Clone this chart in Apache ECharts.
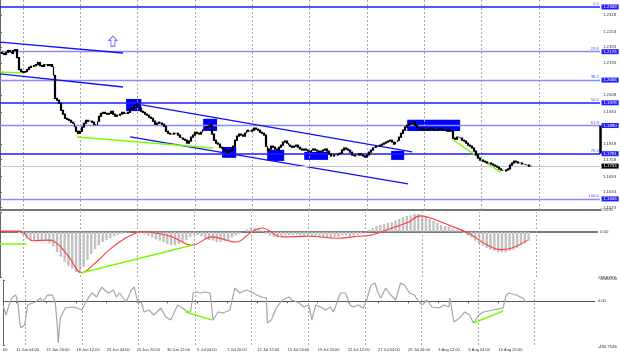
<!DOCTYPE html>
<html><head><meta charset="utf-8">
<script src="https://cdn.jsdelivr.net/npm/echarts@6/dist/echarts.min.js"></script>
<style>html,body{margin:0;padding:0;background:#fff}#c{width:620px;height:357px}</style>
</head><body><div id="c"></div>
<script>
// ---------- DATA ----------
const closes = [
1.2173,1.2169,1.2165,1.2173,1.2180,1.2176,1.2169,1.2180,1.2184,1.2153,
1.2107,1.2099,1.2096,1.2099,1.2107,1.2115,1.2119,1.2119,1.2122,1.2126,
1.2134,1.2122,1.2119,1.2126,1.2126,1.2122,1.2126,1.2119,1.2084,1.1995,
1.1988,1.1976,1.1949,1.1934,1.1918,1.1914,1.1910,1.1903,1.1899,1.1884,
1.1868,1.1860,1.1868,1.1884,1.1899,1.1910,1.1907,1.1907,1.1903,1.1895,
1.1891,1.1907,1.1926,1.1937,1.1941,1.1937,1.1934,1.1937,1.1945,1.1934,
1.1926,1.1930,1.1930,1.1934,1.1941,1.1937,1.1937,1.1941,1.1953,1.1957,
1.1968,1.1972,1.1964,1.1957,1.1945,1.1941,1.1934,1.1930,1.1922,1.1918,
1.1907,1.1895,1.1899,1.1903,1.1899,1.1895,1.1887,1.1868,1.1860,1.1857,
1.1857,1.1860,1.1860,1.1853,1.1845,1.1841,1.1837,1.1833,1.1822,1.1830,
1.1845,1.1853,1.1864,1.1860,1.1857,1.1864,1.1876,1.1880,1.1884,1.1887,
1.1891,1.1857,1.1833,1.1822,1.1818,1.1806,1.1803,1.1795,1.1791,1.1787,
1.1791,1.1795,1.1810,1.1833,1.1849,1.1857,1.1853,1.1849,1.1860,1.1872,
1.1868,1.1868,1.1872,1.1880,1.1876,1.1872,1.1864,1.1860,1.1853,1.1810,
1.1791,1.1799,1.1810,1.1806,1.1799,1.1795,1.1806,1.1814,1.1826,1.1830,
1.1822,1.1814,1.1810,1.1806,1.1810,1.1814,1.1806,1.1799,1.1795,1.1799,
1.1795,1.1791,1.1787,1.1795,1.1799,1.1795,1.1791,1.1787,1.1791,1.1795,
1.1799,1.1791,1.1780,1.1772,1.1772,1.1776,1.1776,1.1780,1.1783,1.1795,
1.1803,1.1799,1.1795,1.1787,1.1776,1.1772,1.1776,1.1776,1.1780,1.1776,
1.1772,1.1768,1.1776,1.1787,1.1795,1.1803,1.1806,1.1810,1.1810,1.1814,
1.1818,1.1822,1.1826,1.1830,1.1833,1.1826,1.1818,1.1826,1.1833,1.1845,
1.1860,1.1872,1.1884,1.1891,1.1895,1.1899,1.1903,1.1891,1.1884,1.1880,
1.1876,1.1880,1.1872,1.1872,1.1876,1.1880,1.1876,1.1872,1.1872,1.1876,
1.1880,1.1876,1.1872,1.1872,1.1868,1.1872,1.1868,1.1841,1.1837,1.1845,
1.1845,1.1841,1.1833,1.1830,1.1822,1.1814,1.1810,1.1803,1.1791,1.1776,
1.1764,1.1756,1.1756,1.1752,1.1749,1.1745,1.1745,1.1741,1.1737,1.1733,
1.1729,1.1722,1.1718,1.1714,1.1714,1.1718,1.1722,1.1737,1.1745,1.1752,
1.1749,1.1745,1.1745,1.1741,1.1741,1.1737,1.1737,1.1733,1.1733
];

// MACD histogram, one value every 2 bars
const histStep = 2;
const macdHist = [
0.0000,0.0000,0.0001,0.0001,0.0000,-0.0002,-0.0005,-0.0010,-0.0013,-0.0014,
-0.0013,-0.0013,-0.0014,-0.0018,-0.0023,-0.0032,-0.0039,-0.0047,-0.0054,-0.0058,
-0.0063,-0.0061,-0.0055,-0.0044,-0.0035,-0.0027,-0.0021,-0.0016,-0.0013,-0.0010,
-0.0007,-0.0005,-0.0003,-0.0002,-0.0001,0.0000,0.0000,-0.0002,-0.0004,-0.0006,
-0.0009,-0.0012,-0.0014,-0.0016,-0.0019,-0.0021,-0.0021,-0.0019,-0.0016,-0.0013,
-0.0008,-0.0005,-0.0005,-0.0007,-0.0010,-0.0013,-0.0014,-0.0016,-0.0016,-0.0014,
-0.0013,-0.0009,-0.0006,-0.0003,0.0000,0.0004,0.0006,0.0006,0.0005,0.0002,
-0.0003,-0.0006,-0.0008,-0.0008,-0.0007,-0.0005,-0.0005,-0.0005,-0.0005,-0.0006,
-0.0007,-0.0008,-0.0008,-0.0008,-0.0009,-0.0009,-0.0010,-0.0010,-0.0008,-0.0008,
-0.0006,-0.0006,-0.0007,-0.0006,-0.0005,-0.0003,0.0000,0.0003,0.0006,0.0009,
0.0011,0.0012,0.0014,0.0015,0.0018,0.0020,0.0023,0.0025,0.0026,0.0028,
0.0028,0.0026,0.0023,0.0020,0.0017,0.0014,0.0011,0.0009,0.0008,0.0005,
0.0003,0.0002,-0.0002,-0.0006,-0.0009,-0.0014,-0.0019,-0.0022,-0.0025,-0.0028,
-0.0030,-0.0032,-0.0032,-0.0032,-0.0030,-0.0028,-0.0025,-0.0021,-0.0018,-0.0014
];

const signalBars = [0,10.5,17.3,26.2,31.4,36.6,42.9,49.7,57.6,65.4,71.7,75.9,83.8,90.6,101,111.5,124,132.5,137.7,148.2,162.3,178,188.5,195.3,204.2,214.7,220.9,226.2,235.6,246.1,256.5,263.4,269.6,277.5];
const signalValues = [0.0001,0.0001,-0.0014,-0.0013,-0.0022,-0.0041,-0.0064,-0.0050,-0.0028,-0.0011,-0.0002,0.0000,-0.0003,-0.0008,-0.0021,-0.0008,-0.0016,0.0000,0.0006,-0.0008,-0.0007,-0.0010,-0.0007,-0.0005,0.0004,0.0015,0.0025,0.0022,0.0011,-0.0002,-0.0021,-0.0028,-0.0025,-0.0013];

const cciBars = [0,1.6,3.7,5.2,6.8,7.9,8.9,9.4,11.5,13.1,15.7,17.3,19.9,20.9,23.6,26.2,27.7,28.8,29.3,30.4,33,36.6,39.3,41.9,44.5,47.1,49.7,52.4,53.9,56,58.6,60.2,61.8,65.4,68.1,69.6,71.7,73.3,74.9,77.5,80.1,83.8,86.4,89,92.7,95.3,97.9,99.5,101,103.1,104.7,107.3,109.9,111.5,114.1,116.8,120.4,123,125.7,129.3,131.9,134.6,137.2,139.8,140.3,142.4,145,148.2,151.8,153.4,157.1,159.7,162.3,163.9,166,168.6,171.2,173.8,175.4,179.1,181.7,184.3,185.9,188.5,191.1,192.7,195.3,197.4,198.9,200.5,203.1,205.8,208.4,211,213.1,215.7,218.3,220.9,222.5,225.1,227.7,231.4,234,236.6,237.2,239.3,242.4,245,247.6,249.7,252.4,255,260.2,265.4,267,268.6,272.3,275.9,277.5];
const cciValues = [-42,-154,-8,48,70,-19,-232,-300,-266,-42,-19,-8,37,-8,70,70,-8,-266,-468,-188,-75,-64,-75,-98,14,93,48,160,127,93,127,48,93,-8,127,160,-19,-8,-120,-98,-154,-75,-176,-210,-42,-75,-120,-120,93,104,93,104,93,-210,-120,-131,-98,149,93,127,104,70,48,37,-244,-210,-75,14,48,14,-19,-64,-42,-210,-42,-64,-98,-64,-120,93,93,-42,-64,-42,-75,-8,183,205,104,37,149,70,14,205,183,93,70,-8,-42,14,-64,-75,-42,-64,37,-232,-188,-120,-154,-244,-154,-120,-98,-75,70,93,70,37,-8];

const fibPercents = ['0.0','23.6','38.2','50.0','61.8','76.4','100.0'];
const fibPrices = [1.2349,1.2176,1.2066,1.1978,1.1890,1.1781,1.1606];
const priceTicks = [1.2318,1.2253,1.2193,1.2133,1.2008,1.1943,1.1818,1.1758,1.1693,1.1633,1.1573];

const boxStartBar = [66,106.3,116.2,139.8,159.2,204.7,213.1];
const boxEndBar   = [74,113.6,123.6,148.7,171.7,211.5,240.8];
const boxTop      = [1.1993,1.1916,1.1807,1.1796,1.1788,1.1792,1.1912];
const boxBottom   = [1.1946,1.1869,1.1765,1.1753,1.1757,1.1757,1.1869];

const channelLines = [ // [bar1, price1, bar2, price2]
  [0,1.2213,64.4,1.2171],
  [0,1.2090,64.4,1.2039],
  [74.3,1.1970,215.7,1.1788],
  [68.1,1.1846,213.6,1.1664]
];
const greenPriceLines = [
  [0,1.2097,11.5,1.2093],
  [40.3,1.1846,111.5,1.1803],
  [237.2,1.1834,261.8,1.1710]
];
const greenMacdLines = [[0,-0.0019,14,-0.0019],[43,-0.0064,101,-0.0021]];
const greenCciLines = [[96.9,-120,111,-210],[249.7,-244,265.4,-109]];

const arrowBar = [59.1], arrowPrice = [1.2217];
const rangeMarker = [1.1890, 1.1781];

const separatorBars = [12,42,72,102,132,162,192,222,252,282];
const xLabelBars = [0,7,23,39,55,71,87,103,119,135,151,167,183,199,215,231,247,263];
const xLabelTexts = ['00','11 Jun 04:00','15 Jun 20:00','18 Jun 12:00','23 Jun 04:00','25 Jun 20:00','30 Jun 12:00','5 Jul 04:00','7 Jul 20:00','12 Jul 12:00','15 Jul 04:00','19 Jul 20:00','22 Jul 12:00','27 Jul 04:00','29 Jul 20:00','3 Aug 12:00','6 Aug 04:00','10 Aug 20:00'];

const macdTicks = [0.0031, 0, -0.00708];
const macdTickTexts = ['0.0031','0.00','-0.00708'];
const cciTicks = [238.8777, 0, -490.7546];
const cciTickTexts = ['238.8777','0.00','-490.7546'];

// ---------- STYLE ----------
const FONT = 'Liberation Sans';
const fibStrong = [true,false,false,true,false,true,false];
const TOTAL_SLOTS = 314;
const PREC = 6;

const candleData = closes.map((c,i)=>{const o = i ? closes[i-1] : c; return [i,o,c,Math.min(o,c),Math.max(o,c)];});
const histData = macdHist.map((v,k)=>[k*histStep, v]);
const signalData = signalBars.map((b,i)=>[b, signalValues[i]]);
const cciData = cciBars.map((b,i)=>[b, cciValues[i]]);
const seg = arr => arr.map(l=>[{coord:[l[0],l[1]]},{coord:[l[2],l[3]]}]);

function sepSeries(gi){
  return {type:'line', xAxisIndex:gi, yAxisIndex:gi, data:[], silent:true, z:0,
    markLine:{symbol:'none', silent:true, precision:PREC, label:{show:false},
      lineStyle:{color:'#a8a8a8', type:[2,2], width:1},
      data: separatorBars.map(b=>({xAxis:b}))}};
}
const tickLabelStyle = {fontFamily:FONT, fontSize:4.3, color:'#333'};
const axisBox = (text, bg) => ({show:true, position:'right', distance:1, formatter:text, color:'#fff', backgroundColor:bg,
  padding:[1,2,0,2], fontFamily:FONT, fontSize:4.3});

const xAxisBase = gi => ({type:'value', gridIndex:gi, min:0, max:TOTAL_SLOTS, splitLine:{show:false},
  axisTick:{show:false}, axisLabel:{show:false}, axisLine:{show:true, lineStyle:{color:'#777', width:2}}});

const option = {
  animation:false,
  backgroundColor:'#fff',
  grid:[
    {left:0, right:20, top:0, height:210},
    {left:0, right:20, top:212, height:65},
    {left:0, right:20, top:280, height:65}
  ],
  xAxis:[
    xAxisBase(0),
    xAxisBase(1),
    {type:'value', gridIndex:2, min:0, max:TOTAL_SLOTS, splitLine:{show:false},
      axisLine:{show:true, lineStyle:{color:'#555', width:1}},
      axisTick:{show:true, customValues:xLabelBars, length:2, lineStyle:{color:'#555'}},
      axisLabel:{show:true, customValues:xLabelBars, align:'left', margin:3, ...tickLabelStyle, fontSize:4,
        formatter:v=>{const i = xLabelBars.indexOf(v); return i>=0 ? xLabelTexts[i] : '';}}}
  ],
  yAxis:[
    {type:'value', gridIndex:0, position:'right', min:1.1563, max:1.2376, splitLine:{show:false},
      axisLine:{show:true, lineStyle:{color:'#666'}},
      axisTick:{show:true, customValues:priceTicks, length:2, lineStyle:{color:'#666'}},
      axisLabel:{customValues:priceTicks, margin:3, ...tickLabelStyle, formatter:v=>v.toFixed(4)}},
    {type:'value', gridIndex:1, position:'right', min:macdTicks[2], max:macdTicks[0], splitLine:{show:false},
      axisLine:{show:true, lineStyle:{color:'#666'}},
      axisTick:{show:true, customValues:macdTicks, length:2, lineStyle:{color:'#666'}},
      axisLabel:{customValues:macdTicks, margin:3, ...tickLabelStyle, showMaxLabel:true, showMinLabel:true,
        verticalAlignMaxLabel:'top', verticalAlignMinLabel:'bottom',
        formatter:v=>{const i = macdTicks.indexOf(v); return i>=0 ? macdTickTexts[i] : '';}}},
    {type:'value', gridIndex:2, position:'right', min:cciTicks[2], max:cciTicks[0], splitLine:{show:false},
      axisLine:{show:true, lineStyle:{color:'#666'}},
      axisTick:{show:true, customValues:cciTicks, length:2, lineStyle:{color:'#666'}},
      axisLabel:{customValues:cciTicks, margin:3, ...tickLabelStyle, showMaxLabel:true, showMinLabel:true,
        verticalAlignMaxLabel:'top', verticalAlignMinLabel:'bottom',
        formatter:v=>{const i = cciTicks.indexOf(v); return i>=0 ? cciTickTexts[i] : '';}}}
  ],
  series:[
    sepSeries(0), sepSeries(1), sepSeries(2),
    // blue zones
    {type:'line', xAxisIndex:0, yAxisIndex:0, data:[], z:1, silent:true,
      markArea:{silent:true, itemStyle:{color:'#0000ff', opacity:1},
        data: boxStartBar.map((b,i)=>[{coord:[b, boxTop[i]]},{coord:[boxEndBar[i], boxBottom[i]]}])}},
    // fibonacci levels with percent labels, price boxes on the axis
    {type:'line', xAxisIndex:0, yAxisIndex:0, data:[], z:2, silent:true,
      markLine:{symbol:'none', silent:true, precision:PREC,
        data: fibPrices.map((p,i)=>({yAxis:p,
          lineStyle:{color: fibStrong[i] ? '#1c1cff' : '#8a8aff', width: fibStrong[i] ? 1.5 : 1.3, type:'solid'},
          label:{show:true, position:'insideEndTop', distance:1, formatter:fibPercents[i], color:'#5050ff',
            fontFamily:FONT, fontSize:4.3}}))},
      markPoint:{silent:true, symbol:'rect', symbolSize:1, itemStyle:{color:'rgba(0,0,0,0)'},
        data: fibPrices.map(p=>({coord:[TOTAL_SLOTS, p], label: axisBox(p.toFixed(4), '#1e1eff')}))}},
    // channel lines
    {type:'line', xAxisIndex:0, yAxisIndex:0, data:[], z:3, silent:true,
      markLine:{symbol:'none', silent:true, precision:PREC, label:{show:false}, lineStyle:{color:'#1010ff', width:1.4, type:'solid'},
        data: seg(channelLines)}},
    // green lines on price
    {type:'line', xAxisIndex:0, yAxisIndex:0, data:[], z:3, silent:true,
      markLine:{symbol:'none', silent:true, precision:PREC, label:{show:false}, lineStyle:{color:'#7cfc00', width:1.5, type:'solid'},
        data: seg(greenPriceLines)}},
    // candles
    {type:'candlestick', xAxisIndex:0, yAxisIndex:0, z:5, barWidth:1.4,
      encode:{x:0, y:[1,2,3,4]},
      itemStyle:{color:'#ffffff', color0:'#000000', borderColor:'#000000', borderColor0:'#000000', borderWidth:1.2},
      data: candleData,
      markLine:{symbol:'none', silent:true, precision:PREC, label:{show:false},
        data:[{yAxis: closes[closes.length-1], lineStyle:{color:'#c4c4c4', width:1, type:'solid'}}]},
      markPoint:{silent:true, symbol:'rect', symbolSize:1, itemStyle:{color:'rgba(0,0,0,0)'},
        data:[{coord:[TOTAL_SLOTS, closes[closes.length-1]], label: axisBox(closes[closes.length-1].toFixed(4), '#000')}]}},
    // arrow mark
    {type:'scatter', xAxisIndex:0, yAxisIndex:0, z:6, silent:true,
      symbol:'path://M4,0 L8,4 L6,4 L6,9 L2,9 L2,4 L0,4 Z', symbolSize:[8,10],
      itemStyle:{color:'rgba(255,255,255,0)', borderColor:'#4d4dff', borderWidth:1},
      data: arrowBar.map((b,i)=>[b, arrowPrice[i]])},
    // range marker on axis
    {type:'line', xAxisIndex:0, yAxisIndex:0, data:[], z:7, silent:true,
      markLine:{symbol:'none', silent:true, precision:PREC, label:{show:false}, lineStyle:{color:'#000', width:2.5, type:'solid'},
        data:[[{coord:[TOTAL_SLOTS, rangeMarker[0]]},{coord:[TOTAL_SLOTS, rangeMarker[1]]}]]}},

    // MACD
    {type:'bar', xAxisIndex:1, yAxisIndex:1, barWidth:2.4, itemStyle:{color:'#c2c2c2'}, data:histData, z:2, silent:true},
    {type:'line', xAxisIndex:1, yAxisIndex:1, data:signalData, smooth:0.4, symbol:'none', z:3, silent:true,
      lineStyle:{color:'#ff3b3b', width:1.1}},
    {type:'line', xAxisIndex:1, yAxisIndex:1, data:[], z:4, silent:true,
      markLine:{symbol:'none', silent:true, precision:PREC, label:{show:false}, lineStyle:{color:'#7cfc00', width:1.5, type:'solid'},
        data: seg(greenMacdLines)}},

    // CCI
    {type:'line', xAxisIndex:2, yAxisIndex:2, data:cciData, symbol:'none', z:3, silent:true,
      lineStyle:{color:'#a6a6a6', width:1.2}},
    {type:'line', xAxisIndex:2, yAxisIndex:2, data:[], z:4, silent:true,
      markLine:{symbol:'none', silent:true, precision:PREC, label:{show:false}, lineStyle:{color:'#7cfc00', width:1.5, type:'solid'},
        data: seg(greenCciLines)}}
  ]
};
const chart = echarts.init(document.getElementById('c'), null, {renderer:'canvas'});
chart.setOption(option);
</script>
</body></html>
